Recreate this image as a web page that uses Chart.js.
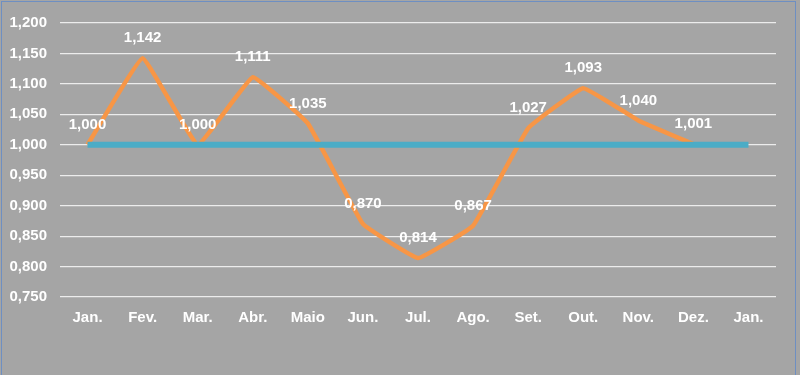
<!DOCTYPE html>
<html>
<head>
<meta charset="utf-8">
<script src="https://cdn.jsdelivr.net/npm/chart.js@4/dist/chart.umd.min.js"></script>
<style>
  html, body { margin: 0; padding: 0; background: #ffffff; }
  #wrap { position: relative; width: 800px; height: 375px; background: #a5a5a5; }
  #frame { position: absolute; left: 1px; top: 1px; width: 793px; height: 380px;
           border: 1px solid #6e8fc2; pointer-events: none; }
  canvas { display: block; }
</style>
</head>
<body>
<div id="wrap">
  <canvas id="chart" width="800" height="375"></canvas>
  <div id="frame"></div>
</div>
<script>
  const months = ["Jan.", "Fev.", "Mar.", "Abr.", "Maio", "Jun.", "Jul.", "Ago.", "Set.", "Out.", "Nov.", "Dez.", "Jan."];
  const indexValues = [1.000, 1.142, 1.000, 1.111, 1.035, 0.870, 0.814, 0.867, 1.027, 1.093, 1.040, 1.001, null];
  const baseline = [1, 1, 1, 1, 1, 1, 1, 1, 1, 1, 1, 1, 1];

  const fmt = (v) => v.toFixed(3).replace(".", ",");
  const FONT = { family: "'Liberation Sans', Arial, sans-serif", size: 15, weight: "bold" };

  // white value labels above the orange line
  const valueLabels = {
    id: "valueLabels",
    afterDatasetsDraw(chart) {
      const ctx = chart.ctx;
      const meta = chart.getDatasetMeta(1);
      ctx.save();
      ctx.font = `bold ${FONT.size}px ${FONT.family}`;
      ctx.fillStyle = "#ffffff";
      ctx.textAlign = "center";
      ctx.textBaseline = "middle";
      meta.data.forEach((pt, i) => {
        const v = indexValues[i];
        if (v == null) return;
        ctx.fillText(fmt(v), pt.x, pt.y - 20);
      });
      ctx.restore();
    }
  };

  new Chart(document.getElementById("chart"), {
    type: "line",
    data: {
      labels: months,
      datasets: [
        { label: "Base", data: baseline, borderColor: "#4bacc6", borderWidth: 6,
          pointRadius: 0, tension: 0, order: 0, borderCapStyle: "butt" },
        { label: "Índice", data: indexValues, borderColor: "#f79646", borderWidth: 4.5,
          pointRadius: 0, tension: 0.08, order: 1, spanGaps: false }
      ]
    },
    options: {
      responsive: false,
      animation: false,
      events: [],
      layout: { padding: { top: 23, right: 24, bottom: 0, left: 0 } },
      plugins: { legend: { display: false }, tooltip: { enabled: false } },
      scales: {
        x: {
          offset: true,
          grid: { display: false, drawTicks: false },
          border: { display: false },
          ticks: { color: "#ffffff", font: FONT, padding: 12, maxRotation: 0, autoSkip: false },
          afterFit(scale) { scale.height = 78; }
        },
        y: {
          min: 0.75, max: 1.2,
          grid: { color: "#ececec", lineWidth: 1.2, drawTicks: false },
          border: { display: false },
          ticks: { stepSize: 0.05, color: "#ffffff", font: FONT, padding: 13,
                   callback: (v) => fmt(v) },
          afterFit(scale) { scale.width = 60; }
        }
      }
    },
    plugins: [valueLabels]
  });
</script>
</body>
</html>
